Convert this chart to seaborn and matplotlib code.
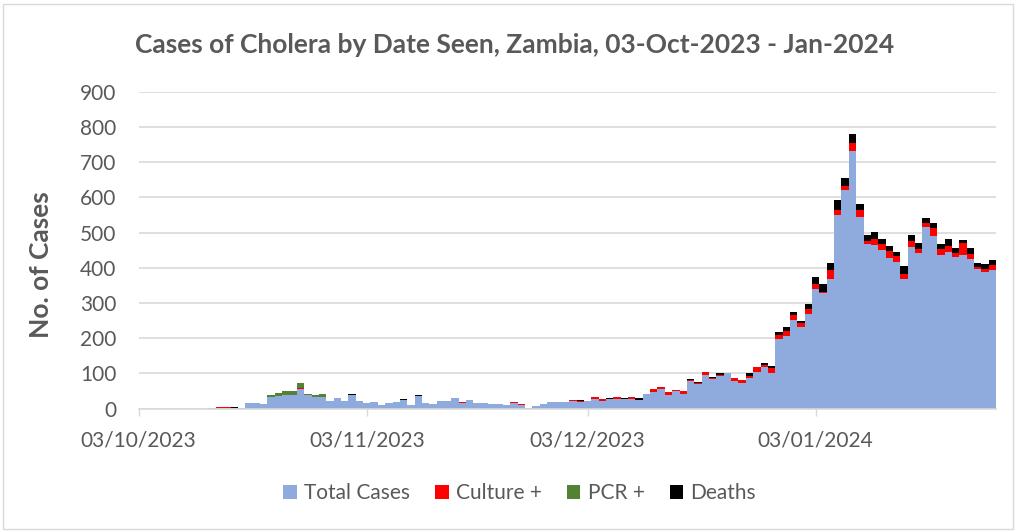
import pandas as pd
import seaborn as sns
import matplotlib.pyplot as plt
from matplotlib.patches import Patch, Rectangle

# daily counts from 03-Oct-2023 to 27-Jan-2024
start_date = '2023-10-03'
tick_dates = ['2023-10-03', '2023-11-03', '2023-12-03', '2024-01-03']
tick_labels = ['03/10/2023', '03/11/2023', '03/12/2023', '03/01/2024']

total_cases = [
    0, 0, 0, 0, 0, 0, 0, 0, 0, 0,
    1, 2, 2, 2, 1, 16, 15, 12, 34, 36,
    37, 39, 55, 37, 32, 34, 21, 29, 21, 39,
    20, 16, 18, 9, 16, 18, 24, 9, 36, 17,
    12, 20, 20, 29, 17, 23, 15, 17, 13, 13,
    9, 16, 10, 2, 7, 12, 19, 19, 18, 22,
    18, 20, 27, 22, 27, 28, 26, 28, 23, 40,
    48, 55, 39, 49, 42, 79, 70, 95, 83, 92,
    100, 79, 73, 88, 104, 119, 102, 197, 206, 252,
    233, 268, 340, 327, 368, 551, 622, 732, 544, 466,
    464, 450, 429, 416, 369, 459, 442, 516, 491, 437,
    446, 430, 437, 424, 395, 387, 394,
]
culture_pos = [
    0, 0, 0, 0, 0, 0, 0, 0, 0, 0,
    0, 1, 1, 0, 0, 0, 0, 0, 0, 0,
    0, 0, 4, 0, 0, 0, 1, 0, 0, 0,
    2, 0, 0, 0, 0, 0, 0, 0, 0, 0,
    2, 0, 0, 0, 2, 2, 0, 0, 0, 0,
    0, 2, 2, 0, 1, 0, 0, 0, 1, 2,
    3, 2, 5, 4, 0, 5, 0, 5, 0, 2,
    7, 5, 7, 4, 7, 3, 3, 8, 3, 4,
    0, 8, 7, 5, 13, 6, 14, 12, 15, 14,
    9, 14, 13, 3, 25, 14, 9, 23, 20, 10,
    18, 17, 19, 18, 14, 18, 11, 11, 23, 17,
    17, 13, 34, 15, 8, 9, 14,
]
pcr_pos = [
    0, 0, 0, 0, 0, 0, 0, 0, 0, 0,
    0, 0, 0, 0, 0, 0, 0, 0, 3, 7,
    12, 12, 14, 4, 6, 8, 0, 0, 0, 0,
    0, 0, 0, 0, 0, 0, 0, 0, 0, 0,
    0, 0, 0, 0, 0, 0, 0, 0, 0, 0,
    0, 0, 0, 0, 0, 0, 0, 0, 0, 0,
    0, 0, 0, 0, 0, 0, 0, 0, 0, 0,
    0, 0, 0, 0, 0, 0, 0, 0, 0, 0,
    0, 0, 0, 0, 0, 0, 0, 0, 0, 0,
    0, 0, 0, 0, 0, 0, 0, 0, 0, 0,
    0, 0, 0, 0, 0, 0, 0, 0, 0, 0,
    0, 0, 0, 0, 0, 0, 0,
]
deaths = [
    0, 0, 0, 0, 0, 0, 0, 0, 0, 0,
    0, 0, 0, 1, 0, 0, 0, 0, 0, 0,
    0, 0, 0, 0, 0, 0, 0, 0, 0, 2,
    0, 0, 0, 0, 0, 0, 2, 0, 3, 0,
    0, 0, 0, 0, 0, 0, 0, 0, 0, 0,
    0, 0, 0, 0, 0, 0, 0, 0, 0, 0,
    3, 0, 0, 0, 3, 0, 3, 0, 6, 0,
    1, 1, 0, 0, 0, 1, 3, 1, 4, 4,
    2, 0, 1, 7, 0, 4, 5, 7, 10, 8,
    6, 16, 21, 23, 21, 27, 25, 25, 17, 18,
    20, 16, 13, 11, 22, 15, 17, 14, 14, 14,
    18, 14, 8, 17, 11, 15, 13,
]

series_names = ['Total Cases', 'Culture +', 'PCR +', 'Deaths']
series_colors = ['#8FAADC', '#FF0000', '#548235', '#000000']

dates = pd.date_range(start_date, periods=len(total_cases), freq='D')
day = (dates - dates[0]).days
frames = []
for name, vals in zip(series_names, [total_cases, culture_pos, pcr_pos, deaths]):
    frames.append(pd.DataFrame({'day': day, 'count': vals, 'series': name}))
df = pd.concat(frames, ignore_index=True)

sns.set_style('white')
plt.rcParams['font.family'] = ['Lato', 'DejaVu Sans']
grey = '#595959'

fig = plt.figure(figsize=(10.17, 5.32), dpi=100)
ax = fig.add_axes([0.1363, 0.2321, 0.8431, 0.5955])

# seaborn stacks the last hue level at the bottom
sns.histplot(data=df, x='day', weights='count', hue='series',
             hue_order=series_names[::-1],
             palette=dict(zip(series_names, series_colors)),
             multiple='stack', discrete=True, shrink=1,
             linewidth=0, alpha=1, legend=False, ax=ax)

ax.set_xlim(0, 116.5)
ax.set_ylim(0, 900)
ax.set_yticks(range(0, 1000, 100))
ticks_pos = (pd.to_datetime(tick_dates) - dates[0]).days
ax.set_xticks(ticks_pos)
ax.set_xticklabels(tick_labels)
ax.tick_params(axis='x', length=5, width=1, color='#d9d9d9', pad=11,
               labelsize=15, labelcolor=grey, bottom=True)
ax.tick_params(axis='y', length=0, pad=16, labelsize=15, labelcolor=grey)
ax.yaxis.grid(True, color='#d9d9d9', linewidth=1.2)
ax.set_axisbelow(True)
for side in ['top', 'right', 'left']:
    ax.spines[side].set_visible(False)
ax.spines['bottom'].set_color('#d9d9d9')
ax.spines['bottom'].set_linewidth(1.2)

ax.set_xlabel('')
ax.set_ylabel('No. of Cases', fontsize=19, fontweight='bold', color=grey)
ax.yaxis.set_label_coords(-0.1, 0.453)

fig.text(0.506, 0.915, 'Cases of Cholera by Date Seen, Zambia, 03-Oct-2023 - Jan-2024',
         ha='center', va='center', fontsize=19, fontweight='bold', color=grey)

handles = [Patch(facecolor=c, edgecolor='none') for c in series_colors]
leg = fig.legend(handles, series_names, loc='center', bbox_to_anchor=(0.511, 0.073),
                 ncol=4, frameon=False, fontsize=15, handlelength=0.65,
                 handleheight=0.65, handletextpad=0.35, columnspacing=1.2)
for t in leg.get_texts():
    t.set_color(grey)

fig.patches.append(Rectangle((0.003, 0.005), 0.993, 0.988, transform=fig.transFigure,
                             fill=False, edgecolor='#d9d9d9', linewidth=1))

fig.savefig('out.png', dpi=100)
